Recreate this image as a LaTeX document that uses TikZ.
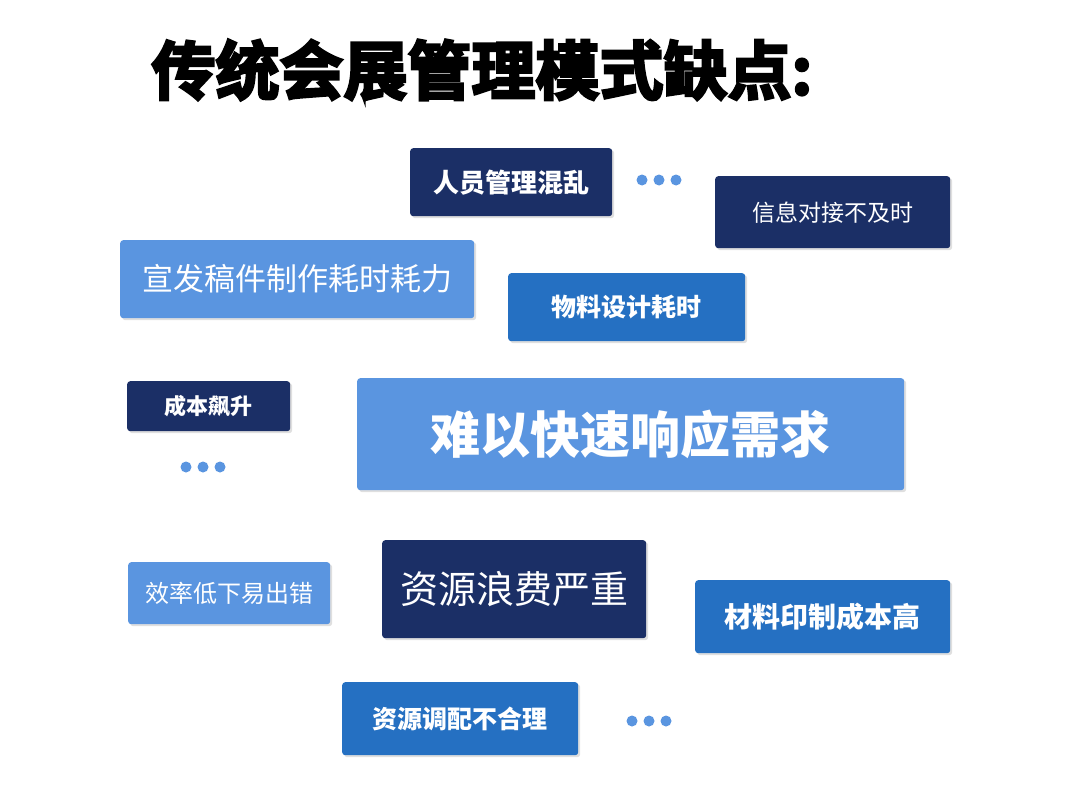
\documentclass[tikz,border=0pt]{standalone}
\usepackage{fontspec}
\setmainfont{Noto Sans CJK SC}
\newfontfamily\cjk{Noto Sans CJK SC}
\newfontfamily\cjkheavy{Noto Sans CJK SC Bold}[FakeBold=4]
\usetikzlibrary{shadows}
\definecolor{navy}{HTML}{1B2F66}
\definecolor{midb}{HTML}{2570C2}
\definecolor{lightb}{HTML}{5A95E0}
\tikzset{
 box/.style={rounded corners=3pt,text=white,drop shadow={shadow xshift=2pt,shadow yshift=-2pt,opacity=0.25}},
 dot/.style={circle,fill=lightb,inner sep=0pt,minimum size=11pt}
}
\newcommand{\bx}[7]{\node[box,fill=#5,anchor=north west,minimum width=#3-#1,minimum height=#4-#2,inner sep=0pt,font=\fontsize{#6}{#6}\selectfont] (#7) at (#1,-#2) {};}
\begin{document}
\begin{tikzpicture}[x=1pt,y=1pt]
\useasboundingbox (0,0) rectangle (1080,-787);
\fill[white] (0,0) rectangle (1080,-787);
\node[font=\cjkheavy\fontsize{64}{64}\selectfont,anchor=west] (title) at (148,-70) {传统会展管理模式缺点:};
\bx{410}{148}{612}{216}{navy}{26}{a}
\node[text=white,font=\bfseries\fontsize{26}{26}\selectfont] at (a) {人员管理混乱};
\bx{715}{176}{950}{248}{navy}{23}{b}
\node[text=white,font=\fontsize{23}{23}\selectfont] at (b) {信息对接不及时};
\bx{120}{240}{474}{318}{lightb}{31}{c}
\node[text=white,font=\fontsize{31}{31}\selectfont] at (c) {宣发稿件制作耗时耗力};
\bx{508}{273}{745}{341}{midb}{25}{d}
\node[text=white,font=\bfseries\fontsize{25}{25}\selectfont] at (d) {物料设计耗时};
\bx{127}{381}{290}{431}{navy}{22}{e}
\node[text=white,font=\bfseries\fontsize{22}{22}\selectfont] at (e) {成本飙升};
\bx{357}{378}{904}{490}{lightb}{50}{f}
\node[text=white,font=\bfseries\fontsize{50}{50}\selectfont] at (f) {难以快速响应需求};
\bx{128}{562}{330}{624}{lightb}{24}{g}
\node[text=white,font=\fontsize{24}{24}\selectfont] at (g) {效率低下易出错};
\bx{382}{540}{646}{638}{navy}{38}{h}
\node[text=white,font=\fontsize{38}{38}\selectfont] at (h) {资源浪费严重};
\bx{695}{580}{950}{653}{midb}{28}{i}
\node[text=white,font=\bfseries\fontsize{28}{28}\selectfont] at (i) {材料印制成本高};
\bx{342}{682}{578}{755}{midb}{25}{j}
\node[text=white,font=\bfseries\fontsize{25}{25}\selectfont] at (j) {资源调配不合理};
\foreach \cx/\cy/\n in {637/180/p,181/467/q,627/721/r}{
 \node[dot] (\n1) at (\cx+5,-\cy) {};
 \node[dot] (\n2) at (\cx+22,-\cy) {};
 \node[dot] (\n3) at (\cx+39,-\cy) {};
}
\end{tikzpicture}
\end{document}
